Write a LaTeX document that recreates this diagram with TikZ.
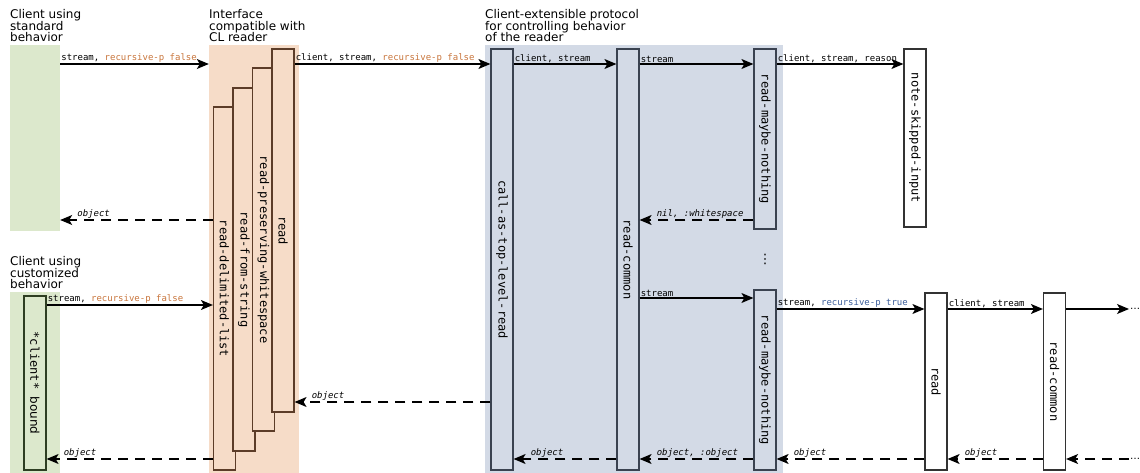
\documentclass[tikz,border=0pt]{standalone}
\usepackage{fontspec}
\setmainfont{DejaVu Sans}
\setmonofont{DejaVu Sans Mono}
\usepackage{graphicx}
\usetikzlibrary{arrows.meta}
\definecolor{grnbg}{HTML}{DCE8CC}
\definecolor{grnln}{HTML}{2E3E22}
\definecolor{orgbg}{HTML}{F6DCC8}
\definecolor{orgln}{HTML}{5C3C28}
\definecolor{blubg}{HTML}{D3DAE6}
\definecolor{bluln}{HTML}{3A4250}
\definecolor{falsec}{HTML}{C8753C}
\definecolor{truec}{HTML}{3D5F9B}
\newcommand{\vtext}[1]{\rotatebox{-90}{#1}}

\begin{document}
\begin{tikzpicture}[x=1pt,y=-1pt,
  head/.style={anchor=north west,inner sep=0pt,align=left,font=\fontsize{12}{11.7}\selectfont},
  area/.style={inner sep=0pt,minimum width=#1},
  vbox/.style={draw,line width=1.2pt,inner sep=0pt,minimum width=22pt,font=\ttfamily\fontsize{12}{14}\selectfont},
  lbl/.style={anchor=south west,inner sep=0.6pt,font=\ttfamily\fontsize{9}{10}\selectfont},
  ret/.style={lbl,xshift=16pt,font=\ttfamily\itshape\fontsize{9}{10}\selectfont},
  call/.style={-{Stealth[length=12pt,width=10pt,inset=3pt]},line width=1.1pt},
  back/.style={call,dash pattern=on 10pt off 7pt}]
\useasboundingbox (0,0) rectangle (1140,473);

% backgrounds and headings
\node[area=50pt,fill=grnbg,minimum height=186pt] (grnA) at (35,138) {};
\node[area=50pt,fill=grnbg,minimum height=181pt] (grnB) at (35,382.5) {};
\node[area=90pt,fill=orgbg,minimum height=428pt] (org) at (254,259) {};
\node[area=298pt,fill=blubg,minimum height=428pt] (blu) at (634,259) {};
\node[head] (hA) at (10,9) {Client using\\standard\\behavior};
\node[head] (hB) at (10,256) {Client using\\customized\\behavior};
\node[head] (hO) at (209,9) {Interface\\compatible with\\CL reader};
\node[head] (hU) at (485,9) {Client-extensible protocol\\for controlling behavior\\of the reader};

% rows
\coordinate (r1) at (0,64);
\coordinate (r2) at (0,220);
\coordinate (rc) at (0,305);
\coordinate (rs) at (0,298);
\coordinate (rt) at (0,309);
\coordinate (ro) at (0,402);
\coordinate (rb) at (0,459);

% client
\node[vbox,draw=grnln,fill=grnbg,minimum height=174pt] (cb) at (35,383) {\vtext{\texttt{*client*} \rmfamily bound}};

% CL interface
\node[vbox,draw=orgln,fill=orgbg,minimum height=363pt] (rdl) at (224.5,288.5) {\vtext{read-delimited-list}};
\node[vbox,draw=orgln,fill=orgbg,minimum height=363pt] (rfs) at (244,269.5) {\vtext{read-from-string}};
\node[vbox,draw=orgln,fill=orgbg,minimum height=363pt] (rpw) at (263.5,249.5) {\vtext{read-preserving-whitespace}};
\node[vbox,draw=orgln,fill=orgbg,minimum height=363pt] (rd) at (283,230.5) {\vtext{read}};

% protocol
\node[vbox,draw=bluln,fill=blubg,minimum height=421pt] (catlr) at (502,259.5) {\vtext{call-as-top-level-read}};
\node[vbox,draw=bluln,fill=blubg,minimum height=421pt] (rcom) at (628,259.5) {\vtext{read-common}};
\node[vbox,draw=bluln,fill=blubg,minimum height=180pt] (rmn1) at (765,139) {\vtext{read-maybe-nothing}};
\node[vbox,draw=bluln,fill=blubg,minimum height=180pt] (rmn2) at (765,380) {\vtext{read-maybe-nothing}};
\node[font=\fontsize{13}{14}\selectfont] (vd) at (765,259) {⋮};

% outside
\node[vbox,draw=black!80,fill=white,minimum height=178pt] (nsi) at (915,138) {\vtext{note-skipped-input}};
\node[vbox,draw=black!80,fill=white,minimum height=177pt] (rd2) at (936,381.5) {\vtext{read}};
\node[vbox,draw=black!80,fill=white,minimum height=177pt] (rcom2) at (1054.5,381.5) {\vtext{read-common}};
\node[anchor=west,inner sep=1pt] (more1) at (1129,309) {\dots};
\node[anchor=west,inner sep=1pt] (more2) at (1129,459) {\dots};

% calls
\draw[call] (grnA.east |- r1) -- node[lbl,at start] {stream, \textcolor{falsec}{recursive-p false}} (org.west |- r1);
\draw[call] (rd.east |- r1) -- node[lbl,at start] {client, stream, \textcolor{falsec}{recursive-p false}} (catlr.west |- r1);
\draw[call] (catlr.east |- r1) -- node[lbl,at start] {client, stream} (rcom.west |- r1);
\draw[call] (rcom.east |- r1) -- node[lbl,at start] {stream} (rmn1.west |- r1);
\draw[call] (rmn1.east |- r1) -- node[lbl,at start] {client, stream, reason} (nsi.west |- r1);
\draw[call] (cb.east |- rc) -- node[lbl,at start] {stream, \textcolor{falsec}{recursive-p false}} (rdl.west |- rc);
\draw[call] (rcom.east |- rs) -- node[lbl,at start] {stream} (rmn2.west |- rs);
\draw[call] (rmn2.east |- rt) -- node[lbl,at start] {stream, \textcolor{truec}{recursive-p true}} (rd2.west |- rt);
\draw[call] (rd2.east |- rt) -- node[lbl,at start] {client, stream} (rcom2.west |- rt);
\draw[call] (rcom2.east |- rt) -- (more1.west);

% returns
\draw[back] (rdl.west |- r2) -- node[ret,at end] {object} (grnA.east |- r2);
\draw[back] (rmn1.west |- r2) -- node[ret,at end] {nil, :whitespace} (rcom.east |- r2);
\draw[back] (catlr.west |- ro) -- node[ret,at end] {object} (rd.east |- ro);
\draw[back] (rdl.west |- rb) -- node[ret,at end] {object} (cb.east |- rb);
\draw[back] (rcom.west |- rb) -- node[ret,at end] {object} (catlr.east |- rb);
\draw[back] (rmn2.west |- rb) -- node[ret,at end] {object, :object} (rcom.east |- rb);
\draw[back] (rd2.west |- rb) -- node[ret,at end] {object} (rmn2.east |- rb);
\draw[back] (rcom2.west |- rb) -- node[ret,at end] {object} (rd2.east |- rb);
\draw[back] (more2.west) -- (rcom2.east |- rb);
\end{tikzpicture}
\end{document}
